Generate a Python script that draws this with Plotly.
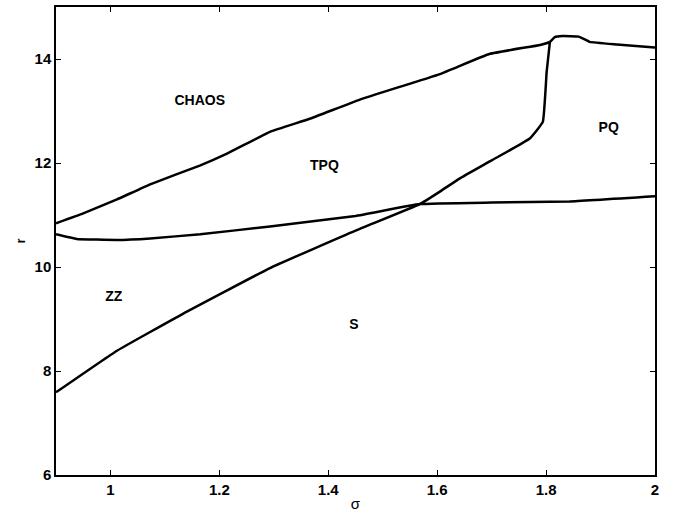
import plotly.graph_objects as go

# Upper boundary (CHAOS / TPQ, PQ)
sigma_upper = [0.9, 0.95, 1.012, 1.073, 1.164, 1.214, 1.293, 1.366, 1.458, 1.605, 1.697, 1.789, 1.807, 1.816, 1.83, 1.86, 1.88, 1.93, 2.0]
r_upper = [10.84, 11.03, 11.30, 11.59, 11.95, 12.18, 12.60, 12.85, 13.22, 13.71, 14.10, 14.27, 14.33, 14.42, 14.44, 14.43, 14.33, 14.28, 14.22]

# TPQ / S boundary (rising curve with near-vertical end)
sigma_ts = [0.9, 1.012, 1.133, 1.293, 1.45, 1.568, 1.605, 1.641, 1.70, 1.770, 1.794, 1.801, 1.807]
r_ts = [7.59, 8.39, 9.10, 9.98, 10.70, 11.21, 11.45, 11.70, 12.05, 12.47, 12.79, 13.75, 14.33]

# ZZ/TPQ and S/PQ boundary (nearly flat)
sigma_mid = [0.9, 0.938, 1.012, 1.073, 1.165, 1.293, 1.45, 1.568, 1.70, 1.843, 2.0]
r_mid = [10.63, 10.54, 10.52, 10.55, 10.63, 10.78, 10.98, 11.21, 11.24, 11.26, 11.36]

region_labels = ["CHAOS", "TPQ", "PQ", "ZZ", "S"]
label_sigma = [1.164, 1.393, 1.915, 1.006, 1.447]
label_r = [13.18, 11.93, 12.66, 9.41, 8.87]

fig = go.Figure()
for xs, ys in [(sigma_upper, r_upper), (sigma_ts, r_ts), (sigma_mid, r_mid)]:
    fig.add_trace(go.Scatter(x=xs, y=ys, mode="lines",
                             line=dict(color="black", width=2.5, shape="spline", smoothing=0.3),
                             showlegend=False, hoverinfo="skip"))

fig.add_trace(go.Scatter(x=label_sigma, y=label_r, mode="text", text=region_labels,
                         textfont=dict(family="Liberation Sans", size=14, color="black", weight="bold"),
                         showlegend=False, hoverinfo="skip"))

axis_common = dict(showgrid=False, zeroline=False, showline=True, linecolor="black",
                   linewidth=1.5, mirror="ticks", ticks="inside", ticklen=5, tickwidth=1.2,
                   tickcolor="black",
                   tickfont=dict(family="Liberation Sans", size=15, color="black", weight="bold"))

fig.update_xaxes(range=[0.9, 2.0], tickvals=[1, 1.2, 1.4, 1.6, 1.8, 2],
                 ticktext=["1", "1.2", "1.4", "1.6", "1.8", "2"],
                 title=dict(text="σ", font=dict(family="Liberation Sans", size=15, color="black"),
                            standoff=2),
                 **axis_common)
fig.update_yaxes(range=[6, 15], tickvals=[6, 8, 10, 12, 14],
                 title=dict(text="r", font=dict(family="Liberation Sans", size=13, color="black", weight="bold"),
                            standoff=6),
                 **axis_common)

fig.update_layout(width=676, height=518, margin=dict(l=56, r=21, t=5, b=43),
                  paper_bgcolor="white", plot_bgcolor="white")

fig.write_html("out.html", config={"displayModeBar": False},
               post_script="document.body.style.margin='0';")
